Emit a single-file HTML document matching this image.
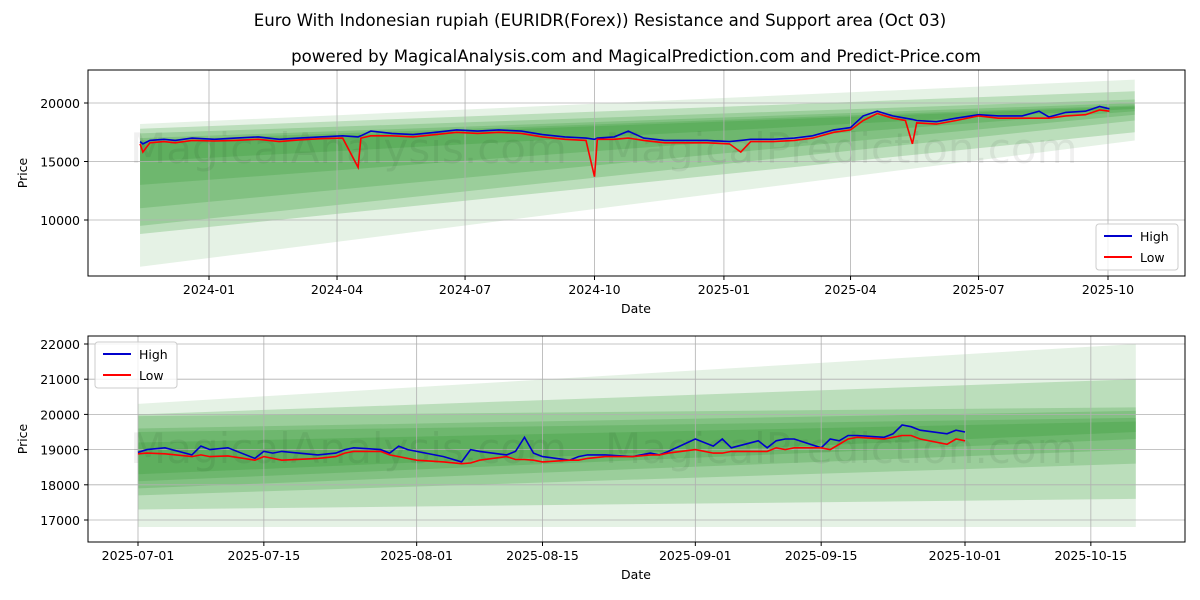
<!DOCTYPE html>
<html><head><meta charset="utf-8"><style>
body{margin:0;background:#fff;}
svg{display:block;font-family:"DejaVu Sans","Liberation Sans",sans-serif;}
</style></head><body>
<svg id="c" width="1200" height="600"></svg>
<script>
const topDates=["2023-11-13","2023-11-15","2023-11-20","2023-11-30","2023-12-08","2023-12-20","2024-01-05","2024-01-20","2024-02-05","2024-02-20","2024-03-05","2024-03-20","2024-04-05","2024-04-16","2024-04-18","2024-04-25","2024-05-10","2024-05-25","2024-06-10","2024-06-25","2024-07-10","2024-07-25","2024-08-10","2024-08-25","2024-09-10","2024-09-25","2024-10-01","2024-10-03","2024-10-15","2024-10-25","2024-11-05","2024-11-20","2024-12-05","2024-12-20","2025-01-05","2025-01-13","2025-01-20","2025-02-05","2025-02-20","2025-03-05","2025-03-20","2025-04-01","2025-04-10","2025-04-20","2025-05-01","2025-05-10","2025-05-15","2025-05-18","2025-06-01","2025-06-15","2025-07-01","2025-07-15","2025-08-01","2025-08-13","2025-08-20","2025-09-01","2025-09-15","2025-09-25","2025-10-02"];
const topHigh=[16700,16500,16800,16900,16800,17000,16900,17000,17100,16900,17000,17100,17200,17100,17200,17600,17400,17300,17500,17700,17600,17700,17600,17300,17100,17000,16900,17000,17100,17600,17000,16800,16800,16800,16700,16800,16900,16900,17000,17200,17700,17900,18900,19300,18900,18700,18600,18500,18400,18700,19000,18900,18900,19300,18800,19200,19300,19700,19500];
const topLow=[16500,15800,16600,16700,16600,16800,16750,16800,16900,16700,16850,16950,17000,14500,17000,17200,17200,17100,17300,17500,17400,17500,17400,17100,16900,16800,13700,16900,16900,17000,16800,16600,16600,16600,16500,15800,16700,16700,16800,17000,17500,17700,18500,19100,18700,18500,16500,18300,18200,18500,18900,18700,18700,18700,18700,18900,19000,19400,19300];
const topBands=[[6000,18200,16800,22000],[8800,17800,17500,21000],[9500,17400,18500,20300],[11000,17000,19000,20000],[13000,16800,19300,19800],[15000,16600,19500,19700]];
const topYTicks=[10000,15000,20000];
const topXTicks=["2024-01-01","2024-04-01","2024-07-01","2024-10-01","2025-01-01","2025-04-01","2025-07-01","2025-10-01"];
const topXLabels=["2024-01","2024-04","2024-07","2024-10","2025-01","2025-04","2025-07","2025-10"];

const botDates=["07-01","07-02","07-04","07-07","07-08","07-09","07-11","07-14","07-15","07-16","07-17","07-21","07-23","07-24","07-25","07-28","07-29","07-30","07-31","08-01","08-04","08-06","08-07","08-08","08-11","08-12","08-13","08-14","08-15","08-18","08-19","08-20","08-22","08-25","08-27","08-28","08-29","09-01","09-03","09-04","09-05","09-08","09-09","09-10","09-11","09-12","09-15","09-16","09-17","09-18","09-19","09-22","09-23","09-24","09-25","09-26","09-29","09-30","10-01"];
const botHigh=[18920,19000,19050,18850,19100,19000,19050,18750,18950,18900,18950,18850,18900,19000,19050,19000,18900,19100,19000,18950,18800,18650,19000,18950,18850,18950,19350,18900,18800,18700,18800,18850,18850,18800,18900,18850,18950,19300,19100,19300,19050,19250,19050,19250,19300,19300,19050,19300,19250,19400,19400,19350,19450,19700,19650,19550,19450,19550,19500];
const botLow=[18880,18900,18880,18800,18850,18800,18820,18700,18800,18750,18700,18750,18800,18900,18950,18950,18850,18800,18750,18700,18650,18600,18620,18700,18800,18720,18720,18700,18650,18700,18700,18750,18800,18800,18850,18850,18900,19000,18900,18900,18950,18950,18950,19050,19000,19050,19050,19000,19150,19300,19350,19300,19350,19400,19400,19300,19150,19300,19250];
const botBands=[[16800,20300,16800,22000],[17300,20000,17600,21000],[17700,19950,18600,20200],[17900,19600,19000,20100],[18100,19500,19300,19900],[18300,19200,19500,19800]];
const botYTicks=[17000,18000,19000,20000,21000,22000];
const botXTicks=["2025-07-01","2025-07-15","2025-08-01","2025-08-15","2025-09-01","2025-09-15","2025-10-01","2025-10-15"];

const NS="http://www.w3.org/2000/svg";
const svg=document.getElementById('c');
function mk(tag,attrs,parent,text){const e=document.createElementNS(NS,tag);for(const k in attrs)e.setAttribute(k,attrs[k]);if(text!==undefined)e.textContent=text;(parent||svg).appendChild(e);return e;}
const day=s=>Date.parse(s+"T00:00:00Z")/864e5;

function panel(o){
  const g=mk('g',{});
  
  
  const X=d=>o.x0+(day(d)-day(o.dRef))*o.pxDay;
  const Y=v=>o.y0+(o.vRef-v)*o.pxVal;
  o.bands.forEach((b,i)=>{
    const xs=X(o.bandStart),xe=X(o.bandEnd);
    const p=mk('polygon',{points:`${xs},${Y(b[1])} ${xe},${Y(b[3])} ${xe},${Y(b[2])} ${xs},${Y(b[0])}`,fill:'#2a962a','fill-opacity':i==0?0.12:0.22},g);
    
    
  });
  o.xt.forEach((d,i)=>{const x=X(d);
    mk('line',{x1:x,x2:x,y1:o.top,y2:o.bot,stroke:'#b0b0b0','stroke-width':0.8},g);
    mk('line',{x1:x,x2:x,y1:o.bot,y2:o.bot+4,stroke:'#000'},g);
    const t=mk('text',{x:x,y:o.bot+18,'font-size':12.5,'text-anchor':'middle'},g,o.xl[i]);
    
    
  });
  o.yt.forEach(v=>{const y=Y(v);
    mk('line',{x1:88,x2:1185,y1:y,y2:y,stroke:'#b0b0b0','stroke-width':0.8},g);
    mk('line',{x1:84,x2:88,y1:y,y2:y,stroke:'#000'},g);
    const t=mk('text',{x:80,y:y+5,'font-size':12.5,'text-anchor':'end'},g,String(v));
    
    
  });
  mk('text',{x:o.wm1x,y:o.wmy,'font-size':42,fill:'#000','fill-opacity':0.06},g,'MagicalAnalysis.com');
  mk('text',{x:o.wm2x,y:o.wmy,'font-size':42,fill:'#000','fill-opacity':0.06},g,'MagicalPrediction.com');
  const lp=(arr)=>o.dates.map((d,i)=>X(d).toFixed(1)+','+Y(arr[i]).toFixed(1)).join(' ');
  const hl=mk('polyline',{points:lp(o.high),fill:'none',stroke:'#0000cc','stroke-width':1.6},g);
  
  
  const ll=mk('polyline',{points:lp(o.low),fill:'none',stroke:'#ff0000','stroke-width':1.6},g);
  
  
  mk('rect',{x:88,y:o.top,width:1097,height:o.bot-o.top,fill:'none',stroke:'#000','stroke-width':1},g);
  const xa=mk('text',{x:636,y:o.bot+37,'font-size':12.5,'text-anchor':'middle'},g,'Date');
  
  
  const cy=(o.top+o.bot)/2;
  const ya=mk('text',{x:27,y:cy,'font-size':12.5,'text-anchor':'middle',transform:`rotate(-90 27 ${cy})`},g,'Price');
  
  
  const lg=mk('g',{},g);
  
  
  mk('rect',{x:o.lx,y:o.ly,width:82,height:46,rx:3,fill:'#fff','fill-opacity':0.8,stroke:'#ccc'},lg);
  mk('line',{x1:o.lx+8,x2:o.lx+36,y1:o.ly+12,y2:o.ly+12,stroke:'#0000cc','stroke-width':2},lg);
  mk('text',{x:o.lx+44,y:o.ly+17,'font-size':12.5},lg,'High');
  mk('line',{x1:o.lx+8,x2:o.lx+36,y1:o.ly+33,y2:o.ly+33,stroke:'#ff0000','stroke-width':2},lg);
  mk('text',{x:o.lx+44,y:o.ly+38,'font-size':12.5},lg,'Low');
}
const t1=mk('text',{x:600,y:26,'font-size':16.6,'text-anchor':'middle'},svg,'Euro With Indonesian rupiah (EURIDR(Forex)) Resistance and Support area (Oct 03)');


const t2=mk('text',{x:636,y:62,'font-size':16.6,'text-anchor':'middle'},svg,'powered by MagicalAnalysis.com and MagicalPrediction.com and Predict-Price.com');



panel({name:'top-panel',top:70,bot:276,x0:209,dRef:'2024-01-01',pxDay:899/639,y0:103,vRef:20000,pxVal:58.5/5000,
 bands:topBands,bandStart:'2023-11-13',bandEnd:'2025-10-20',xt:topXTicks,xl:topXLabels,yt:topYTicks,
 dates:topDates,high:topHigh,low:topLow,wm1x:130,wm2x:605,wmy:163,lx:1096,ly:224});
panel({name:'bottom-panel',top:336,bot:542,x0:138,dRef:'2025-07-01',pxDay:827/92,y0:344,vRef:22000,pxVal:35.2/1000,
 bands:botBands,bandStart:'2025-07-01',bandEnd:'2025-10-20',xt:botXTicks,xl:botXTicks,yt:botYTicks,
 dates:botDates.map(d=>'2025-'+d),high:botHigh,low:botLow,wm1x:130,wm2x:605,wmy:463,lx:95,ly:342});
</script>
</body></html>
